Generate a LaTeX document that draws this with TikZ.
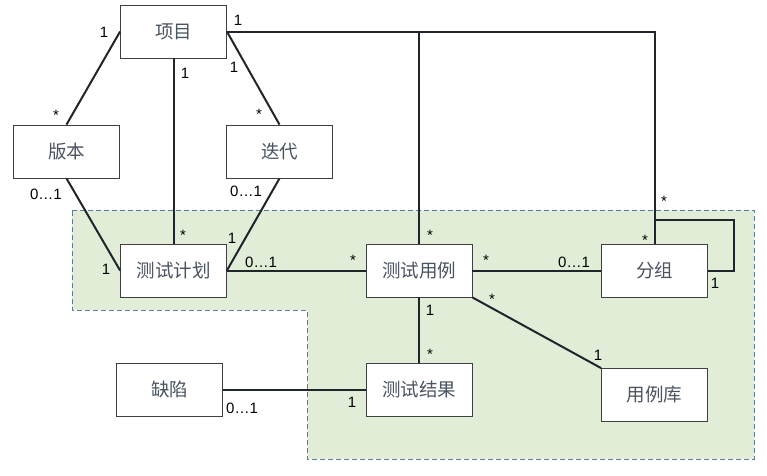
\documentclass[tikz,border=0pt]{standalone}
\usepackage{fontspec}
\setmainfont{Liberation Sans}
\newfontfamily\cjk{Noto Sans CJK SC}
\usetikzlibrary{positioning}
\definecolor{boxline}{HTML}{3F3F3F}
\definecolor{boxtext}{HTML}{4A5360}
\definecolor{zonefill}{HTML}{E2EDD8}
\definecolor{zoneline}{HTML}{5E7C94}
\definecolor{linkline}{HTML}{1E252B}
\tikzset{
  cls/.style={draw=boxline, fill=white, line width=.8pt, minimum width=106pt,
    minimum height=53pt, inner sep=0pt, text=boxtext,
    font=\cjk\fontsize{18.5}{20}\selectfont},
  link/.style={draw=linkline, line width=2pt},
  mult/.style={inner sep=0pt, text=black, font=\fontsize{15}{16}\selectfont},
  zone/.style={draw=zoneline, fill=zonefill, dash pattern=on 5pt off 3pt,
    line width=1pt}
}

\begin{document}
\begin{tikzpicture}[x=1pt, y=-1pt]
  \useasboundingbox (0,0) rectangle (767,475);

  % test management area
  \draw[zone] (72,210) -- (754,210) -- (754,459) -- (307,459) -- (307,310)
    -- (72,310) -- cycle;

  \node[cls] (xm)  at (173.5,31.5)  {项目};
  \node[cls] (bb)  at (66.5,151.5)  {版本};
  \node[cls] (dd)  at (279.5,151.5) {迭代};
  \node[cls] (jh)  at (173.5,270.5) {测试计划};
  \node[cls] (yl)  at (419,270.5)   {测试用例};
  \node[cls] (fz)  at (654.5,270.5) {分组};
  \node[cls] (jg)  at (419,389.5)   {测试结果};
  \node[cls] (qx)  at (169.5,389.5) {缺陷};
  \node[cls] (ylk) at (654.5,395)   {用例库};

  \draw[link] (xm.west) -- (bb.north);
  \draw[link] (xm.south) -- (jh.north);
  \draw[link] (xm.east) -- (dd.north);
  \draw[link] (xm.east) -| (fz.north);
  \draw[link] (yl.north) -- (yl.north |- xm.east);
  \draw[link] (bb.south) -- (jh.west);
  \draw[link] (dd.south) -- (jh.east);
  \draw[link] (jh.east) -- (yl.west);
  \draw[link] (yl.east) -- (fz.west);
  \draw[link] (yl.south east) -- (ylk.north west);
  \draw[link] (yl.south) -- (jg.north);
  \draw[link] (qx.east) -- (jg.west);
  \draw[link] (fz.north) -- ++(0,-24) -| ([xshift=26pt]fz.east) -- (fz.east);

  % multiplicities
  \node[mult] (m1)  at (104,32)  {1};
  \node[mult] (m2)  at (56,115)  {*};
  \node[mult] (m3)  at (185,73)  {1};
  \node[mult] (m4)  at (183,235) {*};
  \node[mult] (m5)  at (234,67)  {1};
  \node[mult] (m6)  at (259,114) {*};
  \node[mult] (m7)  at (238,20)  {1};
  \node[mult] (m8)  at (664,201) {*};
  \node[mult] (m9)  at (645,240) {*};
  \node[mult] (m10) at (715,283) {1};
  \node[mult] (m11) at (430,235) {*};
  \node[mult] (m12) at (46,194)  {0…1};
  \node[mult] (m13) at (106,269) {1};
  \node[mult] (m14) at (246,191) {0…1};
  \node[mult] (m15) at (232,238) {1};
  \node[mult] (m16) at (261,262) {0…1};
  \node[mult] (m17) at (353,260) {*};
  \node[mult] (m18) at (486,260) {*};
  \node[mult] (m19) at (574,262) {0…1};
  \node[mult] (m20) at (492,299) {*};
  \node[mult] (m21) at (598,355) {1};
  \node[mult] (m22) at (430,310) {1};
  \node[mult] (m23) at (430,354) {*};
  \node[mult] (m24) at (242,408) {0…1};
  \node[mult] (m25) at (352,402) {1};
\end{tikzpicture}
\end{document}
